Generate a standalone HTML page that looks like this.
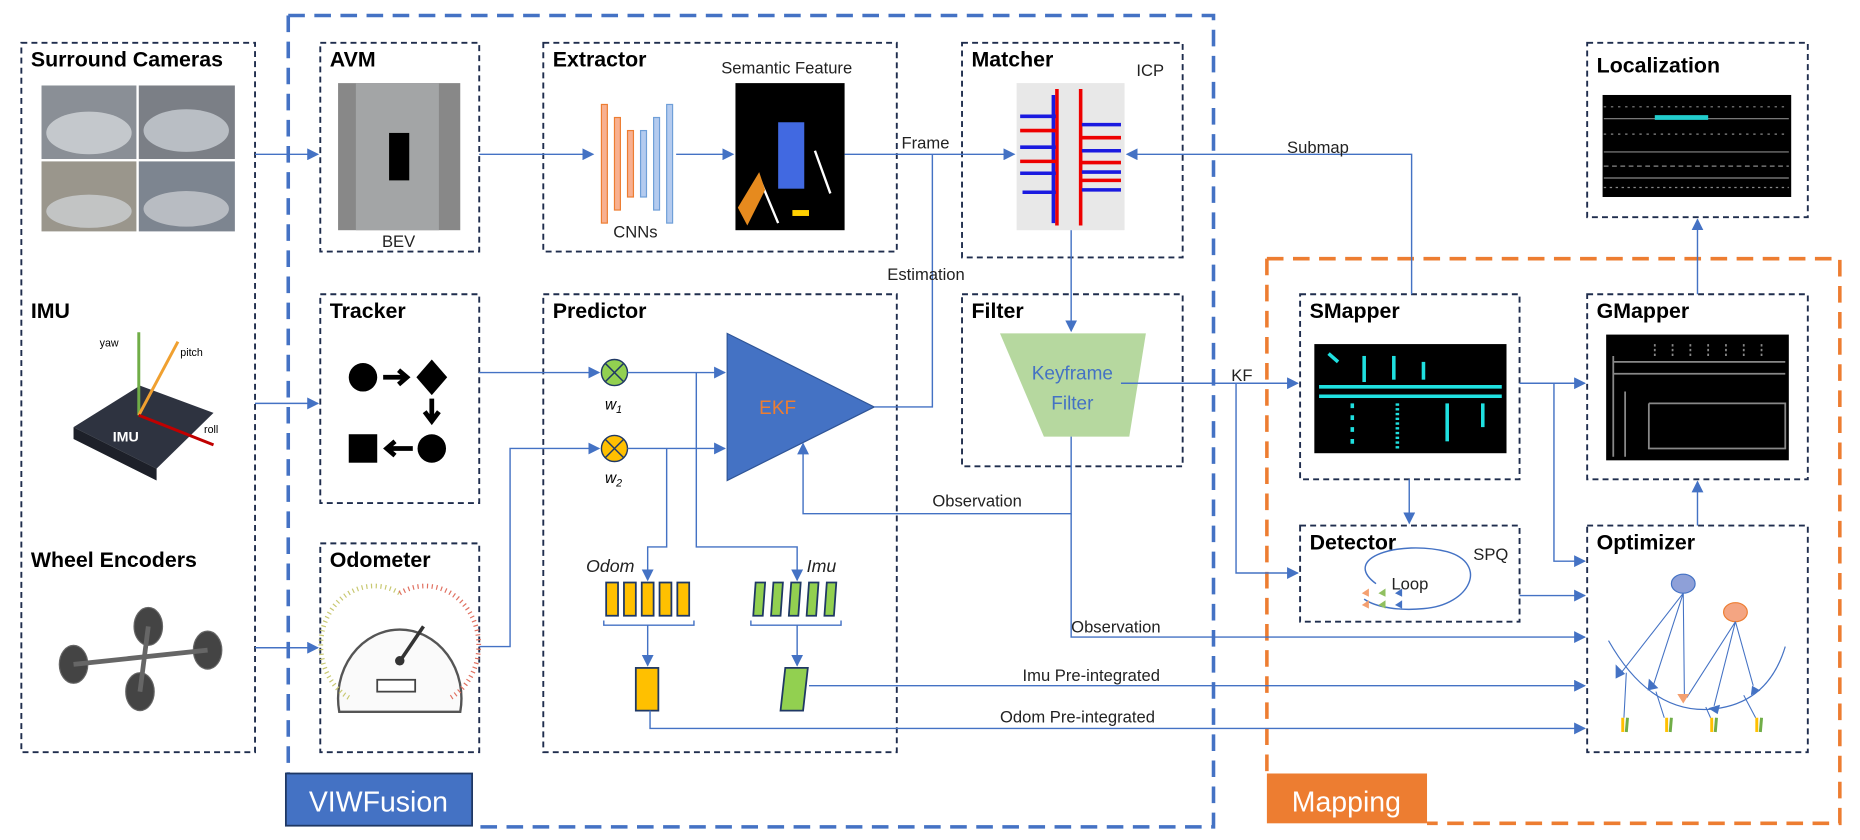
<!DOCTYPE html>
<html><head><meta charset="utf-8"><style>
html,body{margin:0;padding:0;background:#fff;}
svg{display:block;}
text{font-family:"Liberation Sans",sans-serif;}
.t{font-size:18px;font-weight:bold;fill:#000;}
.l{font-size:14px;fill:#222;}
.bx{fill:none;stroke:#1f2d4d;stroke-width:1.6;stroke-dasharray:5 3.5;}
.ln{fill:none;stroke:#4472c4;stroke-width:1.2;}
</style></head><body>
<svg width="1860" height="840" viewBox="0 0 1568 708" xmlns="http://www.w3.org/2000/svg">
<defs>
<marker id="a" markerWidth="10" markerHeight="10" refX="9" refY="5" orient="auto" markerUnits="userSpaceOnUse"><path d="M0,0 L10,5 L0,10 z" fill="#4472c4"/></marker>
</defs>
<rect width="1568" height="708" fill="#fff"/>
<path d="M243,13 H1023 V697 H398" fill="none" stroke="#4472c4" stroke-width="3" stroke-dasharray="14 8"/>
<path d="M243,13 V652" fill="none" stroke="#4472c4" stroke-width="3" stroke-dasharray="14 8"/>
<path d="M1068,218 H1551 V694 H1203" fill="none" stroke="#ed7d31" stroke-width="3" stroke-dasharray="14 8"/>
<path d="M1068,218 V652" fill="none" stroke="#ed7d31" stroke-width="3" stroke-dasharray="14 8"/>
<rect x="241" y="652" width="157" height="44" fill="#4472c4" stroke="#1f3864" stroke-width="1.5"/>
<text x="319" y="684" text-anchor="middle" font-size="24" fill="#fff">VIWFusion</text>
<rect x="1068" y="652" width="135" height="42" fill="#ed7d31"/>
<text x="1135" y="684" text-anchor="middle" font-size="24" fill="#fff">Mapping</text>

<rect class="bx" x="18" y="36" width="197" height="598"/>
<text class="t" x="26" y="56">Surround Cameras</text>
<rect x="35" y="72" width="80" height="62" fill="#8a8f96"/><rect x="117" y="72" width="81" height="62" fill="#7b7f86"/>
<rect x="35" y="136" width="80" height="59" fill="#9a968c"/><rect x="117" y="136" width="81" height="59" fill="#7d8590"/>
<ellipse cx="75" cy="112" rx="36" ry="18" fill="#c4c8cc"/><ellipse cx="157" cy="110" rx="36" ry="18" fill="#b9bec4"/>
<ellipse cx="75" cy="178" rx="36" ry="14" fill="#c2c4c4"/><ellipse cx="157" cy="176" rx="36" ry="15" fill="#b8bcc2"/>
<text class="t" x="26" y="268">IMU</text>
<path d="M62,360 L118,325 L180,348 L132,395 Z" fill="#2e3340"/>
<path d="M62,360 L132,395 L132,405 L62,370Z" fill="#1d2029"/>
<text x="95" y="372" font-size="12" fill="#fff" font-weight="bold">IMU</text>
<line x1="117" y1="350" x2="117" y2="280" stroke="#70ad47" stroke-width="2.5"/>
<line x1="117" y1="350" x2="150" y2="288" stroke="#f0a030" stroke-width="2.5"/>
<line x1="117" y1="350" x2="180" y2="375" stroke="#c00000" stroke-width="2.5"/>
<text x="84" y="292" font-size="9">yaw</text><text x="152" y="300" font-size="9">pitch</text><text x="172" y="365" font-size="9">roll</text>
<text class="t" x="26" y="478">Wheel Encoders</text>
<g stroke="#666" fill="#444"><ellipse cx="62" cy="560" rx="12" ry="16"/><ellipse cx="125" cy="528" rx="12" ry="16"/><ellipse cx="118" cy="583" rx="12" ry="16"/><ellipse cx="175" cy="548" rx="12" ry="16"/>
<line x1="62" y1="560" x2="175" y2="548" stroke-width="4"/><line x1="125" y1="528" x2="118" y2="583" stroke-width="4"/></g>

<rect class="bx" x="270" y="36" width="134" height="176"/>
<text class="t" x="278" y="56">AVM</text>
<rect x="285" y="70" width="103" height="124" fill="#888"/>
<rect x="300" y="70" width="70" height="124" fill="#a3a5a6"/>
<rect x="328" y="112" width="17" height="40" fill="#000"/>
<text class="l" x="322" y="208">BEV</text>

<rect class="bx" x="458" y="36" width="298" height="176"/>
<text class="t" x="466" y="56">Extractor</text>
<text class="l" x="608" y="62">Semantic Feature</text>
<g stroke-width="1">
<rect x="507" y="88" width="5" height="100" fill="#f8b090" stroke="#ed7d31"/>
<rect x="518" y="99" width="5" height="78" fill="#f8b090" stroke="#ed7d31"/>
<rect x="529" y="110" width="5" height="56" fill="#f8b090" stroke="#ed7d31"/>
<rect x="540" y="110" width="5" height="56" fill="#b4cbef" stroke="#6f9fd8"/>
<rect x="551" y="99" width="5" height="78" fill="#b4cbef" stroke="#6f9fd8"/>
<rect x="562" y="88" width="5" height="100" fill="#b4cbef" stroke="#6f9fd8"/>
</g>
<text class="l" x="517" y="200">CNNs</text>
<rect x="620" y="70" width="92" height="124" fill="#000"/>
<rect x="656" y="103" width="22" height="56" fill="#4169e1"/>
<line x1="641" y1="152" x2="656" y2="188" stroke="#fff" stroke-width="2"/><line x1="687" y1="127" x2="700" y2="163" stroke="#fff" stroke-width="2"/>
<path d="M622,175 L640,145 L645,160 L630,190Z" fill="#e68a1e"/>
<rect x="668" y="177" width="14" height="5" fill="#ffd000"/>

<rect class="bx" x="811" y="36" width="186" height="181"/>
<text class="t" x="819" y="56">Matcher</text>
<text class="l" x="958" y="64">ICP</text>
<rect x="857" y="70" width="91" height="124" fill="#e8e8e8"/>
<g stroke-width="3"><line x1="891" y1="75" x2="891" y2="190" stroke="#e00"/><line x1="911" y1="75" x2="911" y2="190" stroke="#e00"/>
<g stroke="#1a1ae0"><line x1="860" y1="98" x2="890" y2="98"/><line x1="860" y1="124" x2="890" y2="124"/><line x1="860" y1="146" x2="890" y2="146"/><line x1="862" y1="162" x2="890" y2="162"/><line x1="912" y1="105" x2="945" y2="105"/><line x1="912" y1="127" x2="945" y2="127"/><line x1="912" y1="145" x2="945" y2="145"/><line x1="912" y1="160" x2="945" y2="160"/><line x1="888" y1="80" x2="888" y2="188"/></g>
<g stroke="#e00"><line x1="860" y1="110" x2="890" y2="110"/><line x1="860" y1="136" x2="890" y2="136"/><line x1="912" y1="116" x2="945" y2="116"/><line x1="912" y1="137" x2="945" y2="137"/><line x1="912" y1="152" x2="945" y2="152"/></g></g>

<rect class="bx" x="1338" y="36" width="186" height="147"/>
<text class="t" x="1346" y="61">Localization</text>
<rect x="1351" y="80" width="159" height="86" fill="#000"/>
<g stroke="#888" stroke-width="1"><line x1="1352" y1="100" x2="1508" y2="100"/><line x1="1352" y1="128" x2="1508" y2="128"/><line x1="1352" y1="150" x2="1508" y2="150"/><line x1="1352" y1="140" x2="1508" y2="140" stroke-dasharray="4 3"/><line x1="1352" y1="90" x2="1508" y2="90" stroke-dasharray="2 4"/><line x1="1352" y1="113" x2="1508" y2="113" stroke-dasharray="2 4"/><line x1="1352" y1="158" x2="1508" y2="158" stroke-dasharray="2 3"/></g>
<rect x="1395" y="97" width="45" height="4" fill="#22cccc"/>

<rect class="bx" x="270" y="248" width="134" height="176"/>
<text class="t" x="278" y="268">Tracker</text>
<circle cx="306" cy="318" r="12" fill="#000"/><path d="M323,318 H341 M336,312 L343,318 L336,324" stroke="#000" stroke-width="4" fill="none"/>
<path d="M364,303 L377,318 L364,333 L351,318Z" fill="#000"/>
<path d="M364,336 V352 M358,347 L364,355 L370,347" stroke="#000" stroke-width="4" fill="none"/>
<circle cx="364" cy="378" r="12" fill="#000"/><rect x="294" y="366" width="24" height="24" fill="#000"/>
<path d="M348,378 H328 M333,372 L326,378 L333,384" stroke="#000" stroke-width="4" fill="none"/>

<rect class="bx" x="458" y="248" width="298" height="386"/>
<text class="t" x="466" y="268">Predictor</text>

<rect class="bx" x="811" y="248" width="186" height="145"/>
<text class="t" x="819" y="268">Filter</text>
<path d="M843,281 H966 L952,368 H880Z" fill="#a9d18e" opacity="0.85"/>
<text x="904" y="320" text-anchor="middle" font-size="16" fill="#4472c4">Keyframe</text>
<text x="904" y="345" text-anchor="middle" font-size="16" fill="#4472c4">Filter</text>

<rect class="bx" x="270" y="458" width="134" height="176"/>
<text class="t" x="278" y="478">Odometer</text>
<path d="M286,600 A52,58 0 1 1 388,600 Z" fill="#fafafa" stroke="#555" stroke-width="2"/>
<path d="M294,588 A45,50 0 0 1 337,500" fill="none" stroke="#c8c870" stroke-width="4" stroke-dasharray="1 3"/>
<path d="M337,500 A45,50 0 0 1 380,588" fill="none" stroke="#e07060" stroke-width="4" stroke-dasharray="1 3"/>
<line x1="338" y1="556" x2="357" y2="528" stroke="#333" stroke-width="3"/><circle cx="337" cy="557" r="4" fill="#333"/>
<rect x="318" y="573" width="32" height="10" fill="#fff" stroke="#444" stroke-width="1.5"/>

<rect class="bx" x="1096" y="248" width="185" height="156"/>
<text class="t" x="1104" y="268">SMapper</text>
<rect x="1108" y="290" width="162" height="92" fill="#000"/>
<g stroke="#1fe0e0" stroke-width="3"><line x1="1112" y1="326" x2="1266" y2="326"/><line x1="1112" y1="334" x2="1266" y2="334"/><line x1="1150" y1="300" x2="1150" y2="322"/><line x1="1175" y1="300" x2="1175" y2="320"/><line x1="1200" y1="305" x2="1200" y2="320"/><line x1="1120" y1="298" x2="1128" y2="305"/><line x1="1140" y1="340" x2="1140" y2="378" stroke-dasharray="4 6"/><line x1="1178" y1="340" x2="1178" y2="378" stroke-dasharray="2 2"/><line x1="1220" y1="340" x2="1220" y2="372"/><line x1="1250" y1="340" x2="1250" y2="360"/></g>

<rect class="bx" x="1338" y="248" width="186" height="156"/>
<text class="t" x="1346" y="268">GMapper</text>
<rect x="1354" y="282" width="154" height="106" fill="#000"/>
<g stroke="#888" stroke-width="1.5" fill="none"><path d="M1360,305 H1505 M1360,315 H1505 M1390,340 H1505 V378 H1390 V340 M1370,330 V385 M1360,300 V385"/><path d="M1395,300 V290 M1410,300 V290 M1425,300 V290 M1440,300 V290 M1455,300 V290 M1470,300 V290 M1485,300 V290" stroke-dasharray="2 2"/></g>

<rect class="bx" x="1096" y="443" width="185" height="81"/>
<text class="t" x="1104" y="463">Detector</text>
<text class="l" x="1242" y="472">SPQ</text>
<path d="M1160,492 C1130,470 1180,455 1220,465 C1255,475 1240,510 1200,513 C1180,515 1160,512 1150,505" fill="none" stroke="#4472c4" stroke-width="1.2"/>
<text class="l" x="1173" y="497">Loop</text>
<path d="M1148,500 l6,-4 v7z M1148,510 l6,-4 v7z" fill="#f4a070"/><path d="M1162,500 l6,-4 v7z M1162,510 l6,-4 v7z" fill="#90c060"/><path d="M1176,500 l6,-4 v7z M1176,510 l6,-4 v7z" fill="#4472c4"/>

<rect class="bx" x="1338" y="443" width="186" height="191"/>
<text class="t" x="1346" y="463">Optimizer</text>
<ellipse cx="1419" cy="492" rx="10" ry="8" fill="#8ea0d8" stroke="#4472c4"/>
<ellipse cx="1463" cy="516" rx="10" ry="8" fill="#f4a582" stroke="#ed7d31"/>
<path d="M1356,540 Q1390,600 1440,598 Q1490,595 1505,545" fill="none" stroke="#4472c4"/>
<g stroke="#4472c4" stroke-width="0.9" fill="none"><path d="M1419,500 L1366,568 M1419,500 L1394,577 M1419,500 L1420,590 M1463,524 L1422,588 M1463,524 L1478,578 M1463,524 L1445,595"/>
<path d="M1371,567 L1369,605 M1396,583 L1403,605 M1438,596 L1442,605 M1470,586 L1480,605"/></g>
<g fill="#4472c4"><path d="M1362,560 l8,8 l-8,4z M1390,572 l8,8 l-9,2z M1440,597 l10,-3 l-2,8z M1477,578 l7,4 l-8,4z"/></g>
<path d="M1414,585 l10,0 l-5,8z" fill="#f4a070"/>
<g stroke-width="2.5"><line x1="1368" y1="605" x2="1368" y2="617" stroke="#ffc000"/><line x1="1372" y1="605" x2="1371" y2="617" stroke="#70ad47"/><line x1="1405" y1="605" x2="1405" y2="617" stroke="#ffc000"/><line x1="1409" y1="605" x2="1408" y2="617" stroke="#70ad47"/><line x1="1443" y1="605" x2="1443" y2="617" stroke="#ffc000"/><line x1="1447" y1="605" x2="1446" y2="617" stroke="#70ad47"/><line x1="1481" y1="605" x2="1481" y2="617" stroke="#ffc000"/><line x1="1485" y1="605" x2="1484" y2="617" stroke="#70ad47"/></g>

<circle cx="518" cy="314" r="11" fill="#92d050" stroke="#1f3864" stroke-width="1.2"/>
<path d="M510,306 L526,322 M526,306 L510,322" stroke="#1f3864" stroke-width="1.2"/>
<text x="510" y="345" font-size="13" font-style="italic" font-family="Liberation Serif">w<tspan font-size="9" dy="3">1</tspan></text>
<circle cx="518" cy="378" r="11" fill="#ffc000" stroke="#1f3864" stroke-width="1.2"/>
<path d="M510,370 L526,386 M526,370 L510,386" stroke="#1f3864" stroke-width="1.2"/>
<text x="510" y="407" font-size="13" font-style="italic" font-family="Liberation Serif">w<tspan font-size="9" dy="3">2</tspan></text>
<path d="M613,281 V405 L737,343Z" fill="#4472c4" stroke="#2f5597"/>
<text x="640" y="349" font-size="16" fill="#ed7d31">EKF</text>
<text x="494" y="482" font-size="15" font-style="italic" fill="#222">Odom</text>
<text x="680" y="482" font-size="15" font-style="italic" fill="#222">Imu</text>
<g fill="#ffc000" stroke="#1f3864" stroke-width="1.5"><rect x="511" y="491" width="10" height="28"/><rect x="526" y="491" width="10" height="28"/><rect x="541" y="491" width="10" height="28"/><rect x="556" y="491" width="10" height="28"/><rect x="571" y="491" width="10" height="28"/><rect x="536" y="563" width="19" height="36"/></g>
<g fill="#92d050" stroke="#1f3864" stroke-width="1.5"><path d="M637,491h8l-2,28h-8z"/><path d="M652,491h8l-2,28h-8z"/><path d="M667,491h8l-2,28h-8z"/><path d="M682,491h8l-2,28h-8z"/><path d="M697,491h8l-2,28h-8z"/><path d="M662,563h19l-4,36h-19z"/></g>

<g class="ln">
<path d="M509,523 v4 H585 v-4"/>
<path d="M633,523 v4 H709 v-4"/>
<path d="M215,130 H268" marker-end="url(#a)"/>
<path d="M215,340 H268" marker-end="url(#a)"/>
<path d="M215,546 H268" marker-end="url(#a)"/>
<path d="M404,130 H500" marker-end="url(#a)"/>
<path d="M570,130 H618" marker-end="url(#a)"/>
<path d="M712,130 H855" marker-end="url(#a)"/>
<path d="M786,130 V343 H737"/>
<path d="M1190,248 V130 H950" marker-end="url(#a)"/>
<path d="M903,194 V279" marker-end="url(#a)"/>
<path d="M945,323 H1094" marker-end="url(#a)"/>
<path d="M1042,323 V483 H1094" marker-end="url(#a)"/>
<path d="M903,368 V433 H677 V374" marker-end="url(#a)"/>
<path d="M903,433 V537 H1336" marker-end="url(#a)"/>
<path d="M1281,323 H1336" marker-end="url(#a)"/>
<path d="M1310,323 V473 H1336" marker-end="url(#a)"/>
<path d="M1188,404 V441" marker-end="url(#a)"/>
<path d="M1281,502 H1336" marker-end="url(#a)"/>
<path d="M1431,443 V406" marker-end="url(#a)"/>
<path d="M1431,248 V185" marker-end="url(#a)"/>
<path d="M404,314 H505" marker-end="url(#a)"/>
<path d="M529,314 H611" marker-end="url(#a)"/>
<path d="M587,314 V461 H672 V489" marker-end="url(#a)"/>
<path d="M404,545 H430 V378 H505" marker-end="url(#a)"/>
<path d="M529,378 H611" marker-end="url(#a)"/>
<path d="M562,378 V461 H546 V489" marker-end="url(#a)"/>
<path d="M546,527 V561" marker-end="url(#a)"/>
<path d="M672,527 V561" marker-end="url(#a)"/>
<path d="M682,578 H1336" marker-end="url(#a)"/>
<path d="M548,599 V614 H1336" marker-end="url(#a)"/>
</g>

<text class="l" x="760" y="125">Frame</text>
<text class="l" x="748" y="236">Estimation</text>
<text class="l" x="1085" y="129">Submap</text>
<text class="l" x="1038" y="321">KF</text>
<text class="l" x="786" y="427">Observation</text>
<text class="l" x="903" y="533">Observation</text>
<text class="l" x="862" y="574">Imu Pre-integrated</text>
<text class="l" x="843" y="609">Odom Pre-integrated</text>
</svg>
</body></html>
